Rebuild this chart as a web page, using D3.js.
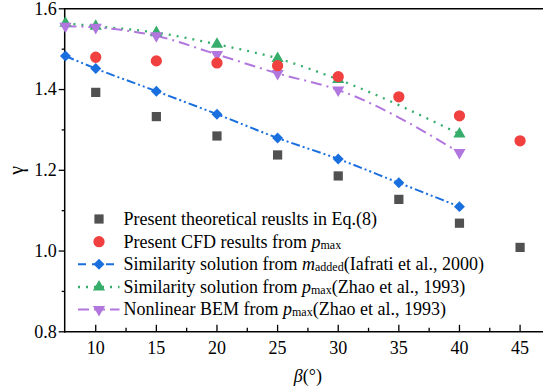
<!DOCTYPE html>
<html><head><meta charset="utf-8">
<script src="https://cdn.jsdelivr.net/npm/d3@7"></script>
<style>
html,body{margin:0;padding:0;background:#fff;}
svg{display:block;font-family:"Liberation Serif","Times New Roman",serif;}
</style></head>
<body>
<svg id="chart" width="543" height="392"></svg>
<script>
// ---- data ----
const xTicks = [10, 15, 20, 25, 30, 35, 40, 45];
const yTicks = [0.8, 1.0, 1.2, 1.4, 1.6];
const xTheory = [10, 15, 20, 25, 30, 35, 40, 45];
const yTheory = [1.393, 1.333, 1.285, 1.238, 1.186, 1.128, 1.069, 1.009];
const xCFD = [10, 15, 20, 25, 30, 35, 40, 45];
const yCFD = [1.480, 1.471, 1.466, 1.459, 1.432, 1.382, 1.335, 1.273];
const xIafrati = [7.5, 10, 15, 20, 25, 30, 35, 40];
const yIafrati = [1.483, 1.452, 1.396, 1.339, 1.280, 1.228, 1.169, 1.110];
const xZhaoSim = [7.5, 10, 15, 20, 25, 30, 40];
const yZhaoSim = [1.564, 1.557, 1.541, 1.512, 1.477, 1.425, 1.290];
const xZhaoBEM = [7.5, 10, 15, 20, 25, 30, 40];
const yZhaoBEM = [1.557, 1.554, 1.533, 1.487, 1.440, 1.399, 1.244];

const colors = {gray:"#515151", red:"#F14040", blue:"#1A6FDF", green:"#37AD6B", purple:"#B177DE"};

const svg = d3.select("#chart");
const pL = 64.7, pR = 551.6, pT = 8.8, pB = 331.8;
const x = d3.scaleLinear().domain([7.44, 47.6]).range([pL, pR]);
const y = d3.scaleLinear().domain([0.8, 1.6]).range([pB, pT]);

// ---- axes ----
const ax = svg.append("g");
ax.append("line").attr("x1", pL).attr("x2", pR).attr("y1", pT).attr("y2", pT)
  .attr("stroke", "#000").attr("stroke-width", 1.6);
ax.append("line").attr("x1", pL).attr("x2", pL).attr("y1", pT - 0.8).attr("y2", pB + 0.8)
  .attr("stroke", "#000").attr("stroke-width", 1.5);
ax.append("line").attr("x1", pL - 0.7).attr("x2", pR).attr("y1", pB).attr("y2", pB)
  .attr("stroke", "#000").attr("stroke-width", 1.5);

const xMinor = d3.range(12.5, 47.6, 5);
xTicks.forEach(t => {
  ax.append("line").attr("x1", x(t)).attr("x2", x(t)).attr("y1", pB).attr("y2", pB - 7)
    .attr("stroke", "#000").attr("stroke-width", 1.3);
  ax.append("text").attr("x", x(t)).attr("y", pB + 22.5).attr("text-anchor", "middle")
    .attr("font-size", 18).text(t);
});
xMinor.forEach(t => {
  ax.append("line").attr("x1", x(t)).attr("x2", x(t)).attr("y1", pB).attr("y2", pB - 4)
    .attr("stroke", "#000").attr("stroke-width", 1.3);
});
const yMinor = [0.9, 1.1, 1.3, 1.5];
yTicks.forEach(t => {
  ax.append("line").attr("x1", pL).attr("x2", pL - 6).attr("y1", y(t)).attr("y2", y(t))
    .attr("stroke", "#000").attr("stroke-width", 1.3);
  ax.append("text").attr("x", pL - 8).attr("y", y(t)).attr("dy", "0.33em").attr("text-anchor", "end")
    .attr("font-size", 18).text(t.toFixed(1));
});
yMinor.forEach(t => {
  ax.append("line").attr("x1", pL).attr("x2", pL - 3).attr("y1", y(t)).attr("y2", y(t))
    .attr("stroke", "#000").attr("stroke-width", 1.3);
});

svg.append("text").attr("transform", `translate(23,${(pT + pB) / 2}) rotate(-90)`)
  .attr("text-anchor", "middle").attr("font-size", 20).text("γ");
const xl = svg.append("text").attr("x", (pL + 543) / 2 + 4).attr("y", 382).attr("text-anchor", "middle").attr("font-size", 18);
xl.append("tspan").attr("font-style", "italic").text("β");
xl.append("tspan").text("(°)");

// ---- marker shapes ----
const sym = {
  square: d3.symbol().type(d3.symbolSquare).size(85),
  circle: d3.symbol().type(d3.symbolCircle).size(100),
  triUp: d3.symbol().type(d3.symbolTriangle).size(64),
};
function drawMarker(g, kind, cx, cy, color) {
  if (kind === "triDown") {
    g.append("path").attr("d", sym.triUp()).attr("transform", `translate(${cx},${cy}) rotate(180)`).attr("fill", color);
  } else if (kind === "diamond") {
    g.append("path").attr("d", d3.symbol().type(d3.symbolSquare).size(60)()).attr("transform", `translate(${cx},${cy}) rotate(45)`).attr("fill", color);
  } else {
    g.append("path").attr("d", sym[kind]()).attr("transform", `translate(${cx},${cy})`).attr("fill", color);
  }
}

const series = [
  {xs: xIafrati, ys: yIafrati, color: colors.blue, dash: "9,3,2,3,2,3", kind: "diamond", w: 2},
  {xs: xZhaoSim, ys: yZhaoSim, color: colors.green, dash: "2,6", kind: "triUp", w: 2.3},
  {xs: xZhaoBEM, ys: yZhaoBEM, color: colors.purple, dash: "11,5,2,5", kind: "triDown", w: 2},
];
const lineGen = d3.line().x(d => x(d[0])).y(d => y(d[1])).curve(d3.curveMonotoneX);
const plot = svg.append("g");
series.forEach(s => {
  const pts = s.xs.map((v, i) => [v, s.ys[i]]);
  plot.append("path").attr("d", lineGen(pts)).attr("fill", "none").attr("stroke", s.color)
    .attr("stroke-width", s.w).attr("stroke-dasharray", s.dash).attr("stroke-linecap", "butt");
});
xTheory.forEach((v, i) => drawMarker(plot, "square", x(v), y(yTheory[i]), colors.gray));
series.forEach(s => s.xs.forEach((v, i) => drawMarker(plot, s.kind, x(v), y(s.ys[i]), s.color)));
xCFD.forEach((v, i) => drawMarker(plot, "circle", x(v), y(yCFD[i]), colors.red));

// ---- legend ----
const lg = svg.append("g");
const lx0 = 78, lx1 = 119.5, lmx = 99, ltx = 123.5;
const rows = [219, 241.7, 264.3, 287, 309.5];
drawMarker(lg, "square", lmx, rows[0], colors.gray);
lg.append("text").attr("x", ltx).attr("y", rows[0]).attr("dy", "0.33em").attr("font-size", 18)
  .text("Present theoretical reuslts in Eq.(8)");
drawMarker(lg, "circle", lmx, rows[1], colors.red);
let t2 = lg.append("text").attr("x", ltx).attr("y", rows[1]).attr("dy", "0.33em").attr("font-size", 18);
t2.append("tspan").text("Present CFD results from ");
t2.append("tspan").attr("font-style", "italic").text("p");
t2.append("tspan").attr("font-size", 12).attr("dy", "1").text("max");
const legTexts = [
  ["Similarity solution from ", "m", "added", "(Iafrati et al., 2000)"],
  ["Similarity solution from ", "p", "max", "(Zhao et al., 1993)"],
  ["Nonlinear BEM from ", "p", "max", "(Zhao et al., 1993)"],
];
const legDash = ["8,6", "2,6", "11,5"];
series.forEach((s, i) => {
  const ry = rows[i + 2];
  lg.append("line").attr("x1", lx0).attr("x2", lx1).attr("y1", ry).attr("y2", ry)
    .attr("stroke", s.color).attr("stroke-width", s.w).attr("stroke-dasharray", legDash[i]);
  drawMarker(lg, s.kind, lmx, ry, s.color);
  const tx = lg.append("text").attr("x", ltx).attr("y", ry).attr("dy", "0.33em").attr("font-size", 18);
  const lt = legTexts[i];
  tx.append("tspan").text(lt[0]);
  tx.append("tspan").attr("font-style", "italic").text(lt[1]);
  tx.append("tspan").attr("font-size", 12).attr("dy", "1").text(lt[2]);
  tx.append("tspan").attr("dy", "-1").text(lt[3]);
});
</script>
</body></html>
